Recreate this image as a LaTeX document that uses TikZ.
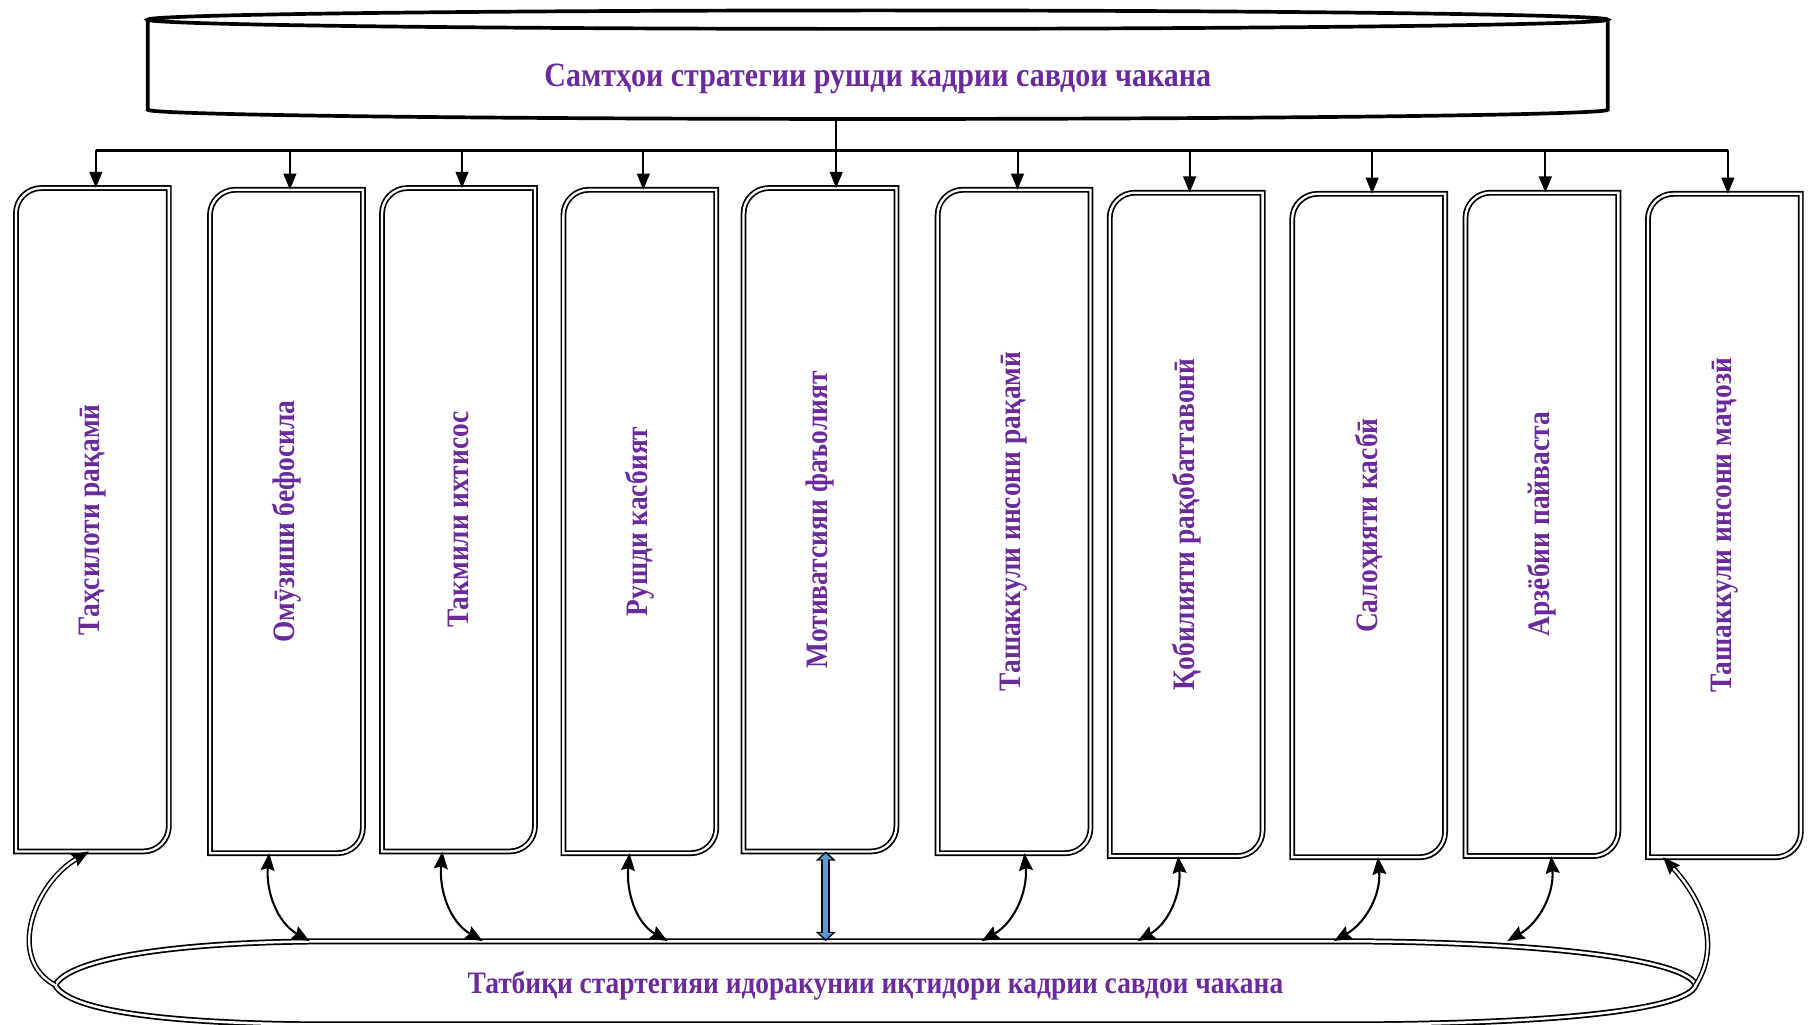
\documentclass[tikz,border=0pt]{standalone}
\usepackage{fontspec}
\usepackage{graphicx}
\setmainfont{Liberation Serif}
\newfontfamily\lblfont[FakeStretch=0.88]{Liberation Serif}
\usetikzlibrary{arrows.meta}
\definecolor{lbl}{HTML}{6A2A9C}
\definecolor{arrowblue}{HTML}{5B9BD5}
\tikzset{
  lbltext/.style={text=lbl, font=\lblfont\bfseries\fontsize{27}{32}\selectfont},
  vbox/.style={lbltext, minimum width=132pt, minimum height=574pt, inner sep=0pt},
  cylline/.style={draw=black, line width=3.2pt},
  boxframe/.style={draw=black, line width=1.5pt, double=white, double distance=2pt},
  busline/.style={draw=black, line width=2.6pt},
  downarrow/.style={draw=black, line width=1.8pt, -{Triangle[length=14pt,width=11pt]}},
  twoway/.style={draw=black, line width=1.8pt, {Stealth[length=15pt,width=12pt,inset=2pt]}-{Stealth[length=15pt,width=12pt,inset=2pt]}},
  ellframe/.style={draw=black, line width=1.5pt, double=white, double distance=2.2pt},
  sideloop/.style={draw=black, line width=1.3pt, double=white, double distance=2pt, -{Stealth[length=15pt,width=12pt,inset=2pt]}},
  blueout/.style={draw=black, line width=8pt, {Triangle[length=8pt,width=17pt]}-{Triangle[length=8pt,width=17pt]}},
  bluein/.style={draw=arrowblue, line width=4.5pt, shorten <=1.8pt, shorten >=1.8pt, {Triangle[length=5pt,width=11pt]}-{Triangle[length=5pt,width=11pt]}}
}
\begin{document}
\begin{tikzpicture}[x=1pt,y=1pt]
\useasboundingbox (0,0) rectangle (1568,-887);
% top
\draw[cylline] (128,-17) -- (128,-95) arc[start angle=180,end angle=360,x radius=632,y radius=8] -- (1392,-17);
\draw[cylline] (760,-17) ellipse [x radius=632, y radius=8];
\node[lbltext, font=\lblfont\bfseries\fontsize{29.5}{34}\selectfont, minimum width=1264pt, minimum height=70pt, inner sep=0pt] (top) at (760,-68) {Самтҳои стратегии рушди кадрии савдои чакана};

% boxes
\node[vbox] (b1) at (80,-450) {\rotatebox{90}{Таҳсилоти рақамӣ}};
\node[vbox] (b2) at (248,-451.5) {\rotatebox{90}{Омӯзиши бефосила}};
\node[vbox] (b3) at (397,-450) {\rotatebox{90}{Такмили ихтисос}};
\node[vbox] (b4) at (554,-451.5) {\rotatebox{90}{Рушди касбият}};
\node[vbox] (b5) at (710,-450) {\rotatebox{90}{Мотиватсияи фаъолият}};
\node[vbox] (b6) at (878,-451.5) {\rotatebox{90}{Ташаккули инсони рақамӣ}};
\node[vbox] (b7) at (1027,-454) {\rotatebox{90}{Қобилияти рақобаттавонӣ}};
\node[vbox] (b8) at (1185,-455) {\rotatebox{90}{Салоҳияти касбӣ}};
\node[vbox] (b9) at (1335,-454) {\rotatebox{90}{Арзёбии пайваста}};
\node[vbox] (b10) at (1493,-455) {\rotatebox{90}{Ташаккули инсони маҷозӣ}};
\foreach \i in {1,...,10}
  \draw[boxframe] (b\i.south west) -- ([yshift=-22pt]b\i.north west) arc[start angle=180,end angle=90,radius=22pt]
    -- (b\i.north east) -- ([yshift=22pt]b\i.south east) arc[start angle=0,end angle=-90,radius=22pt] -- cycle;

% bus
\coordinate (bus) at (0,-130);
\draw[busline] ([xshift=3pt]b1.north |- bus) -- ([xshift=3pt]b10.north |- bus);
\foreach \i in {1,2,3,4,6,7,8,9,10}
  \draw[downarrow] ([xshift=3pt]b\i.north |- bus) -- ([xshift=3pt]b\i.north);
\draw[downarrow] ([xshift=14pt]b5.north |- top.south) -- ([xshift=14pt]b5.north);

% bottom
\node[lbltext, minimum width=1420pt, minimum height=76pt, inner sep=0pt] (impl) at (758,-853) {Татбиқи стартегияи идоракунии иқтидори кадрии савдои чакана};
\draw[ellframe] (impl.west) .. controls (60,-830) and (150,-815) .. (290,-815) -- (1160,-815)
  .. controls (1330,-815) and (1460,-830) .. (impl.east)
  .. controls (1460,-876) and (1330,-887) .. (1160,-887) -- (290,-887)
  .. controls (150,-887) and (60,-876) .. cycle;

% links
\foreach \b/\s/\e in {b2/-15/20, b3/-14/21, b4/-9/24}
  \draw[twoway] ([xshift=\s pt]\b.south) to[out=-95,in=150] ([xshift=\e pt]\b.south |- impl.north);
\foreach \b/\s/\e in {b6/9/-28, b7/-7/-42, b8/8/-30, b9/8/-30}
  \draw[twoway] ([xshift=\s pt]\b.south) to[out=-85,in=30] ([xshift=\e pt]\b.south |- impl.north);
\draw[blueout] ([xshift=5pt]b5.south) -- ([xshift=5pt]b5.south |- impl.north);
\draw[bluein] ([xshift=5pt]b5.south) -- ([xshift=5pt]b5.south |- impl.north);
\draw[sideloop] (impl.west) .. controls (5,-830) and (30,-765) .. ([xshift=-3pt]b1.south);
\draw[sideloop] (impl.east) .. controls (1492,-815) and (1470,-775) .. ([xshift=-53pt]b10.south);
\end{tikzpicture}
\end{document}
